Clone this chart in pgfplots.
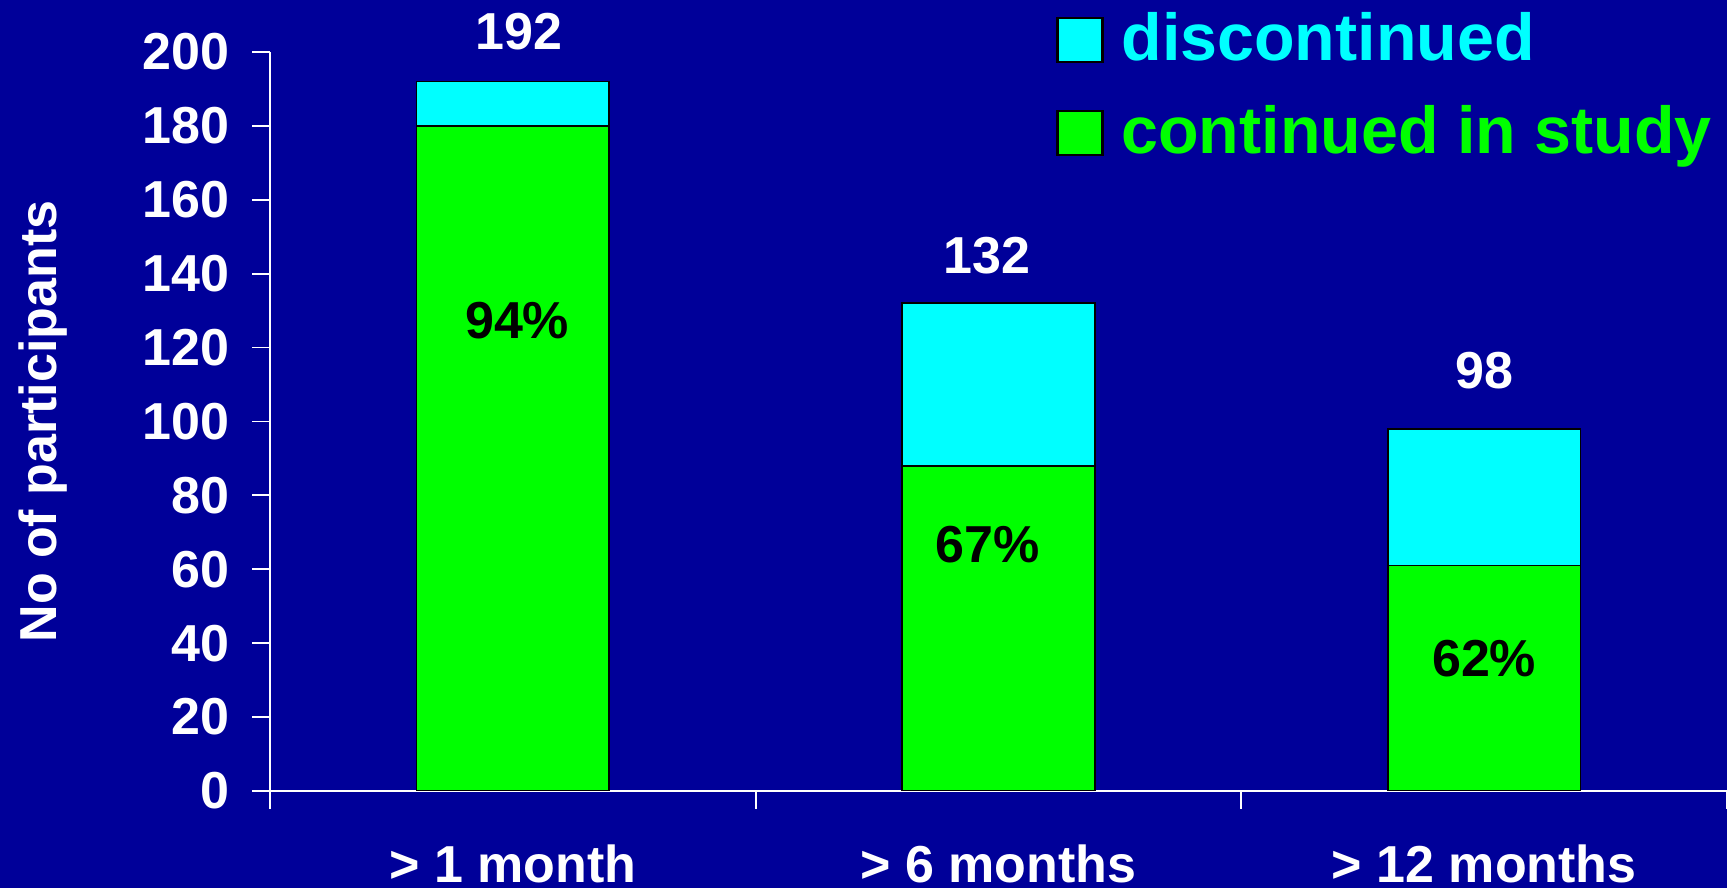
\documentclass[border=0pt]{standalone}
\usepackage{pgfplots}
\pgfplotsset{compat=1.18}
\usepackage{fontspec}
\setmainfont{Liberation Sans}
\definecolor{bgblue}{RGB}{0,0,153}
\definecolor{barcyan}{RGB}{0,255,255}
\definecolor{bargreen}{RGB}{0,255,0}
\newcommand{\bigfont}{\bfseries\fontsize{13}{15}\selectfont}
\newcommand{\legfont}{\bfseries\fontsize{16.6}{19}\selectfont}

\begin{document}
\begin{tikzpicture}
\fill[bgblue] (-67.5pt,-24.25pt) rectangle (364.25pt,197.75pt);
\useasboundingbox (-67.5pt,-24.25pt) rectangle (364.25pt,197.75pt);
\begin{axis}[
  scale only axis, width=364.25pt, height=184.75pt,
  ybar stacked, bar width=0.397,
  xmin=-0.5, xmax=2.5, ymin=0, ymax=200,
  axis lines*=left,
  axis line style={white, line width=0.45pt},
  xtick={-0.5,0.5,1.5,2.5},
  x tick label as interval,
  xticklabels={> 1 month, > 6 months, > 12 months},
  ytick={0,20,...,200},
  tick align=outside,
  major tick length=4.4pt,
  tick style={white, line width=0.45pt},
  ticklabel style={font=\bigfont, text=white},
  /pgf/number format/assume math mode=true,
  xticklabel style={yshift=-5.6pt},
  yticklabel style={xshift=-2.2pt},
  ylabel={No of participants},
  every axis y label/.style={at={(axis description cs:-0.156,0.5)}, rotate=90, anchor=center, font=\bigfont, text=white},
  reverse legend,
  legend cell align=left,
  legend style={at={(axis description cs:0.531,1.066)}, anchor=north west, draw=none, fill=none,
    font=\legfont, row sep=9.8pt, column sep=0pt, nodes={inner sep=0pt}},
]
\addplot[fill=bargreen, draw=black, line width=0.4pt,
  legend image code/.code={\draw[fill=bargreen, draw=black, line width=0.6pt] (0pt,-5.7pt) rectangle (11.25pt,5.3pt);}]
  coordinates {(0,180) (1,88) (2,61)};
\addlegendentry{\hspace{4.4pt}\textcolor{bargreen}{continued in study}}
\addplot[fill=barcyan, draw=black, line width=0.4pt,
  legend image code/.code={\draw[fill=barcyan, draw=black, line width=0.6pt] (0pt,-5.7pt) rectangle (11.25pt,5.3pt);}]
  coordinates {(0,12) (1,44) (2,37)};
\addlegendentry{\hspace{4.4pt}\textcolor{barcyan}{discontinued}}
\end{axis}
% labels: totals above the bars, share continued inside the green part
\begin{axis}[
  scale only axis, width=364.25pt, height=184.75pt,
  xmin=-0.5, xmax=2.5, ymin=0, ymax=200,
  hide axis, clip=false,
]
\addplot[draw=none, mark=none, nodes near coords, point meta=explicit symbolic,
  nodes near coords style={font=\bigfont, text=white, anchor=center}]
  coordinates {(0.012,205.4) [192] (0.977,144.8) [132] (2,113.8) [98]};
\addplot[draw=none, mark=none, nodes near coords, point meta=explicit symbolic,
  nodes near coords style={font=\bigfont, text=black, anchor=center}]
  coordinates {(0.009,127.2) [94\%] (0.977,66.7) [67\%] (2,35.9) [62\%]};
\end{axis}
\end{tikzpicture}
\end{document}
